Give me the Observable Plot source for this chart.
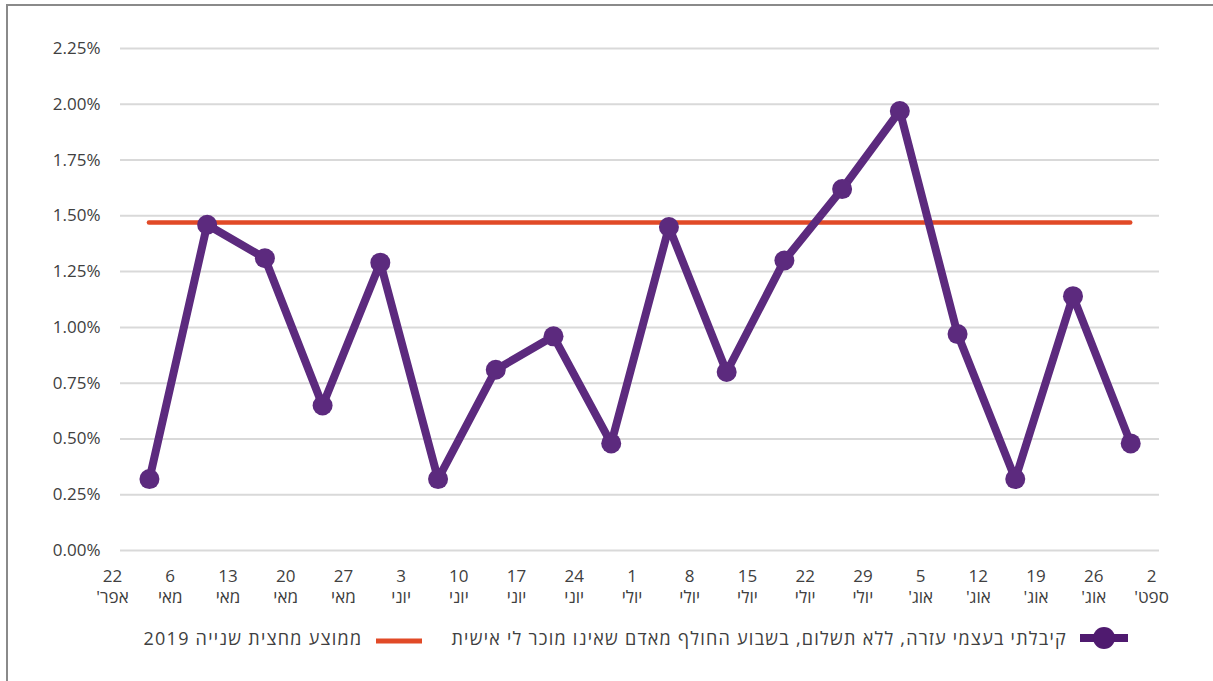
<!DOCTYPE html>
<html>
<head>
<meta charset="utf-8">
<script src="https://cdn.jsdelivr.net/npm/d3@7"></script>
<script src="https://cdn.jsdelivr.net/npm/@observablehq/plot@0.6"></script>
<style>
  html, body { margin: 0; padding: 0; background: #fff; }
  #wrap { position: relative; width: 1213px; height: 681px; overflow: hidden; font-family: "Open Sans", "Noto Sans", sans-serif; }
  #frame { position: absolute; left: 6px; top: 4px; width: 1300px; height: 800px; border-left: 2px solid #8a8a8a; border-top: 2px solid #8a8a8a; }
  #chart { position: absolute; left: 0; top: 0; }
  #legend { position: absolute; top: 626px; right: 85px; display: flex; direction: rtl; align-items: center; font-size: 18px; letter-spacing: 1.25px; color: #404040; white-space: nowrap; }
  .item { display: flex; direction: rtl; align-items: center; }
  .item svg { display: block; }
</style>
</head>
<body>
<div id="wrap">
  <div id="frame"></div>
  <div id="chart"></div>
  <div id="legend"></div>
</div>
<script>
// Tick labels for the weekly date axis (day, month)
const weekDays = ["22","6","13","20","27","3","10","17","24","1","8","15","22","29","5","12","19","26","2"];
const weekMonths = ["אפר'","מאי","מאי","מאי","מאי","יוני","יוני","יוני","יוני","יולי","יולי","יולי","יולי","יולי","אוג'","אוג'","אוג'","אוג'","ספט'"];
// Weekly share (%) — "received help myself, unpaid, from a stranger in the past week"
const weeklyValues = [0.32, 1.46, 1.31, 0.65, 1.29, 0.32, 0.81, 0.96, 0.48, 1.45, 0.80, 1.30, 1.62, 1.97, 0.97, 0.32, 1.14, 0.48];
// Second-half 2019 average (%)
const average2019 = 1.47;
const yTicks = [0, 0.25, 0.5, 0.75, 1, 1.25, 1.5, 1.75, 2, 2.25];
const seriesLabel = "קיבלתי בעצמי עזרה, ללא תשלום, בשבוע החולף מאדם שאינו מוכר לי אישית";
const averageLabel = "ממוצע מחצית שנייה 2019";

const purple = "#5c2a7e";
const orange = "#e14a27";
const pointOffset = 0.64;     // data points fall between the tick labels
const axisShift = 0.1386;     // labels sit slightly left of the gridline start

const data = weeklyValues.map((v, i) => ({x: i + pointOffset, y: v}));
const labelIdx = weekDays.map((_, i) => i);
const RLM = "\u200F";

const chart = Plot.plot({
  width: 1213,
  height: 620,
  marginLeft: 120,
  marginRight: 54,
  marginTop: 48,
  marginBottom: 70,
  style: {fontFamily: '"Open Sans", "Noto Sans", sans-serif', fontSize: "17px", color: "#404040", background: "transparent"},
  x: {domain: [axisShift, axisShift + 18], axis: null},
  y: {domain: [0, 2.25], axis: null},
  marks: [
    Plot.gridY(yTicks, {stroke: "#d9d9d9", strokeOpacity: 1, strokeWidth: 2}),
    Plot.axisY(yTicks, {label: null, tickSize: 0, tickPadding: 20, tickFormat: d => d.toFixed(2) + "%", fill: "#404040", fontSize: 17}),
    Plot.axisX(labelIdx, {label: null, tickSize: 0, tickPadding: 16, lineHeight: 1.25, fill: "#404040", fontSize: 17,
      tickFormat: i => weekDays[i] + "\n" + RLM + weekMonths[i] + RLM}),
    Plot.ruleY([average2019], {x1: data[0].x, x2: data[data.length - 1].x, stroke: orange, strokeWidth: 4.5, strokeLinecap: "round"}),
    Plot.line(data, {x: "x", y: "y", stroke: purple, strokeWidth: 8, strokeLinejoin: "round"}),
    Plot.dot(data, {x: "x", y: "y", r: 10, fill: purple, stroke: "none"})
  ]
});
document.getElementById("chart").appendChild(chart);

// Legend (RTL: series first on the right)
const legend = document.getElementById("legend");
function item(swatchSvg, text, gap) {
  const d = document.createElement("div");
  d.className = "item";
  d.innerHTML = swatchSvg + `<span style="margin-right:${gap}px">${text}</span>`;
  return d;
}
const purpleSwatch = `<svg width="48" height="24"><line x1="0" y1="12" x2="48" y2="12" stroke="#4f1a6f" stroke-width="8"/><circle cx="24" cy="12" r="11" fill="#4f1a6f"/></svg>`;
const orangeSwatch = `<svg width="46" height="24"><line x1="0" y1="15" x2="46" y2="15" stroke="${orange}" stroke-width="5"/></svg>`;
const i1 = item(purpleSwatch, seriesLabel, 13);
const i2 = item(orangeSwatch, averageLabel, 14);
i2.style.marginRight = "29px";
legend.appendChild(i1);
legend.appendChild(i2);
</script>
</body>
</html>
